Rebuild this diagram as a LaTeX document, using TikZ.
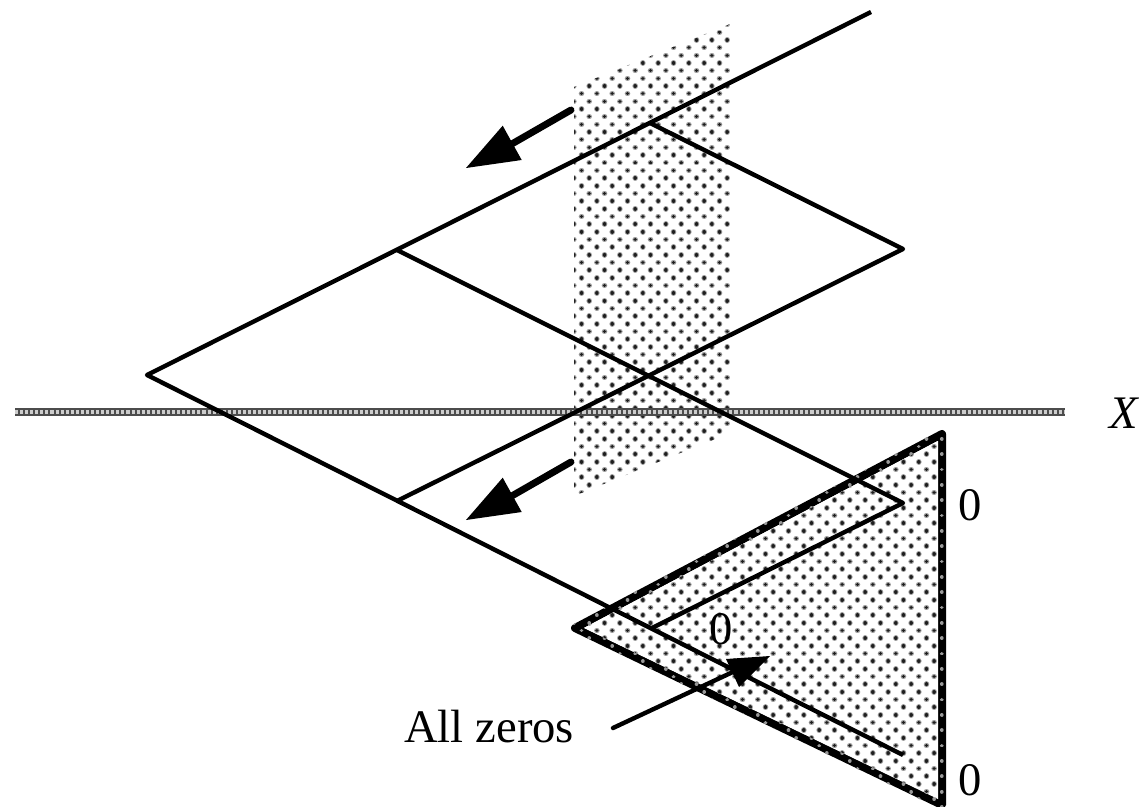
\documentclass[tikz,border=0pt]{standalone}
\usepackage{fontspec}
\setmainfont{Liberation Serif}
\definecolor{dothalo}{gray}{0.62}
\definecolor{dotcore}{gray}{0.12}
\tikzset{
  wire/.style={line width=3.3pt,black,line join=round},
  head/.style={fill=black,draw=none},
  shaft/.style={line width=5.2pt,black,line cap=round},
  thinshaft/.style={line width=3.3pt,black,line cap=round},
  lab/.style={font=\fontsize{35}{40}\selectfont,inner sep=0pt},
  rim/.style={line width=6pt,black,line join=round},
  dotrow/.style={line cap=round,dash pattern=on 0.01pt off 11.4875pt},
  halo/.style={dotrow,dothalo,line width=4.2pt},
  core/.style={dotrow,dotcore,line width=2.7pt},
  hole/.style={dotrow,white!60!black,line width=2.8pt},
}
\newcommand{\dotrows}[3]{% first row, last row, style
  \foreach \k in {#1,...,#2}{
    \pgfmathsetmacro{\yy}{32.3+7.67*\k}
    \pgfmathsetmacro{\off}{mod(\k+100,2)*7.67}
    \draw[#3] ({550.87+\off},\yy) -- (960,\yy);
  }
}
\begin{document}
\begin{tikzpicture}[x=0.75pt,y=-0.75pt]
\useasboundingbox (0,0) rectangle (1147,807);
% shaded plane
\begin{scope}
\clip (574,87) -- (730,24) -- (730,433) -- (574,496) -- cycle;
\dotrows{-1}{61}{halo}
\dotrows{-1}{61}{core}
\end{scope}
% axis
\coordinate (xl) at (15,412);
\coordinate (xr) at (1065,412);
\draw[line width=6pt,black!70] (xl) -- (xr);
\draw[line width=2.4pt,white!80!black,dash pattern=on 2.3pt off 1.5pt] (xl) -- (xr);
% triangle
\coordinate (ta) at (575,628);
\coordinate (tb) at (942,434);
\coordinate (tc) at (942,805);
\draw[rim] (ta) -- (tb) -- (tc) -- cycle;
\begin{scope}
\clip (566,628) -- (946,427) -- (946,812) -- cycle;
\dotrows{50}{102}{hole}
\end{scope}
\fill[white] (584,628) -- (938,441) -- (938,799) -- cycle;
\begin{scope}
\clip (584,628) -- (938,441) -- (938,799) -- cycle;
\dotrows{50}{102}{halo}
\dotrows{50}{102}{core}
\end{scope}
% rhombus lines
\coordinate (w) at (147,375);
\coordinate (ne) at (871,12);
\coordinate (a) at (397,250);
\coordinate (b) at (650,123);
\coordinate (c) at (903,249);
\coordinate (d) at (397,501);
\coordinate (e) at (903,503);
\coordinate (f) at (652,628);
\coordinate (g) at (903,755);
\draw[wire] (ne) -- (w) -- (g);
\draw[wire] (b) -- (c) -- (d);
\draw[wire] (a) -- (e) -- (f);
% arrows
\coordinate (p1) at (571,110);
\coordinate (q1) at (510,145);
\coordinate (p2) at (571,462);
\coordinate (q2) at (510,497);
\coordinate (p3) at (613,728);
\coordinate (q3) at (735,671);
\draw[shaft] (p1) -- (q1);
\fill[head] (466,168) -- (502.7,125.7) -- (521.7,160) -- cycle;
\draw[shaft] (p2) -- (q2);
\fill[head] (466,520) -- (502.7,477.7) -- (521.7,512) -- cycle;
\draw[thinshaft] (p3) -- (q3);
\fill[head] (770,656) -- (726,659) -- (739,687) -- cycle;
% labels
\node[lab] (t0) at (721,629) {0};
\node[lab] (t1) at (970,505) {0};
\node[lab] (t2) at (970,780) {0};
\node[lab,anchor=base west] (allz) at (404,742) {All zeros};
\node[lab,anchor=base west] (xlab) at (1109,428) {\itshape X};
\end{tikzpicture}
\end{document}
